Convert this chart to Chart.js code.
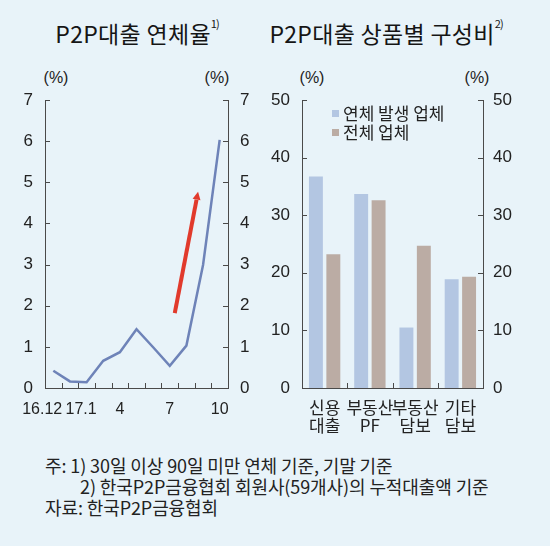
<!DOCTYPE html>
<html><head><meta charset="utf-8">
<script src="https://cdn.jsdelivr.net/npm/chart.js@4.4.0/dist/chart.umd.min.js"></script>
<style>
html,body{margin:0;padding:0;background:#e8f3f9;}
#wrap{position:relative;width:550px;height:546px;background:#e8f3f9;overflow:hidden;font-family:'Noto Sans CJK KR',sans-serif;color:#222;}
canvas{position:absolute;top:0;}
.title{position:absolute;top:16px;font-size:23px;font-weight:400;color:#151515;white-space:nowrap;transform:translateX(-50%);letter-spacing:0.3px;}
.title sup{font-size:11px;vertical-align:top;position:relative;top:-1px;letter-spacing:-1px;}
.unit{position:absolute;top:69px;font-size:16px;transform:translateX(-50%);font-family:'Liberation Sans','Noto Sans CJK KR',sans-serif;}
.leg{position:absolute;left:332px;font-size:17px;line-height:19px;white-space:nowrap;}
.leg i{display:inline-block;width:7px;height:7px;margin-right:4px;vertical-align:middle;position:relative;top:-2px;}
.foot{position:absolute;left:45px;top:455px;font-size:18px;line-height:21px;white-space:nowrap;letter-spacing:-0.1px;}
</style></head>
<body>
<div id="wrap">
  <div class="title" style="left:137px">P2P대출 연체율<sup>1)</sup></div>
  <div class="title" style="left:386px">P2P대출 상품별 구성비<sup>2)</sup></div>
  <div class="unit" style="left:56px">(%)</div>
  <div class="unit" style="left:217px">(%)</div>
  <div class="unit" style="left:312px">(%)</div>
  <div class="unit" style="left:477px">(%)</div>
  <canvas id="c1" width="275" height="450" style="left:0;width:275px;height:450px"></canvas>
  <canvas id="c2" width="290" height="450" style="left:260px;width:290px;height:450px"></canvas>
  <div class="leg" style="top:103px"><i style="background:#b3c6e2"></i>연체 발생 업체</div>
  <div class="leg" style="top:122px"><i style="background:#bbaca4"></i>전체 업체</div>
  <div class="foot">주: 1) 30일 이상 90일 미만 연체 기준, 기말 기준<br><span style="padding-left:35px">2) 한국P2P금융협회 회원사(59개사)의 누적대출액 기준</span><br>자료: 한국P2P금융협회</div>
</div>
<script>
// ---- data ----
const monthLabels = ['16.12     ','     17.1','','','4','','','7','','','10'];
const delinquencyRate = [0.42,0.16,0.14,0.66,0.87,1.43,0.99,0.54,1.03,2.99,6.03];
const arrowFrom = [7.3, 1.82];
const arrowTo = [8.7, 4.77];

const productLabels = [['신용','대출'],['부동산','PF'],['부동산','담보'],['기타','담보']];
const overdueFirms = [36.7, 33.7, 10.5, 18.9];
const allFirms = [23.2, 32.6, 24.7, 19.3];
const seriesNames = ['연체 발생 업체','전체 업체'];

const numFont = {family:"'Liberation Sans','Noto Sans CJK KR',sans-serif", size:17};
const xNumFont = {family:"'Liberation Sans','Noto Sans CJK KR',sans-serif", size:16};
const korFont = {family:"'Noto Sans CJK KR',sans-serif", size:17, lineHeight:1.08};
const axisColor = '#4a4a4a';

const innerTicks = {
  id:'innerTicks',
  afterDraw(chart){
    const ctx = chart.ctx, ca = chart.chartArea;
    ctx.save();
    ctx.strokeStyle = axisColor; ctx.lineWidth = 1;
    ['y','y2'].forEach(id=>{
      const s = chart.scales[id];
      const left = s.position === 'left';
      const x0 = left ? ca.left : ca.right;
      s.ticks.forEach((t,i)=>{
        const y = Math.round(s.getPixelForTick(i)) + 0.5;
        ctx.beginPath(); ctx.moveTo(x0, y); ctx.lineTo(x0 + (left?5:-5), y); ctx.stroke();
      });
    });
    const xs = chart.scales.x;
    const n = chart.data.labels.length;
    const step = xs.getPixelForValue(1) - xs.getPixelForValue(0);
    for (let i=1;i<n;i++){
      const x = Math.round(xs.getPixelForValue(i) - step/2) + 0.5;
      ctx.beginPath(); ctx.moveTo(x, ca.bottom); ctx.lineTo(x, ca.bottom - 5); ctx.stroke();
    }
    ctx.restore();
  }
};

const arrowPlugin = {
  id:'arrowPlugin',
  afterDatasetsDraw(chart){
    const xs = chart.scales.x, ys = chart.scales.y, ctx = chart.ctx;
    const x1 = xs.getPixelForValue(arrowFrom[0]), y1 = ys.getPixelForValue(arrowFrom[1]);
    const x2 = xs.getPixelForValue(arrowTo[0]), y2 = ys.getPixelForValue(arrowTo[1]);
    const ang = Math.atan2(y2-y1, x2-x1);
    const head = 8, hw = 4;
    const bx = x2 - head*Math.cos(ang), by = y2 - head*Math.sin(ang);
    ctx.save();
    ctx.strokeStyle = '#e13a2c'; ctx.fillStyle = '#e13a2c';
    ctx.lineWidth = 4; ctx.lineCap = 'butt';
    ctx.beginPath(); ctx.moveTo(x1,y1); ctx.lineTo(bx,by); ctx.stroke();
    ctx.beginPath();
    ctx.moveTo(x2,y2);
    ctx.lineTo(bx + hw*Math.sin(ang), by - hw*Math.cos(ang));
    ctx.lineTo(bx - hw*Math.sin(ang), by + hw*Math.cos(ang));
    ctx.closePath(); ctx.fill();
    ctx.restore();
  }
};

function yAxis(pos, max, step, width, pad){
  return {
    type:'linear', position:pos, min:0, max:max,
    grid:{display:false, drawTicks:false},
    border:{display:true, color:axisColor, width:1},
    ticks:{stepSize:step, color:'#222', font:numFont, padding:pad},
    afterFit(s){ s.width = width; }
  };
}

new Chart(document.getElementById('c1'), {
  type:'line',
  data:{labels:monthLabels, datasets:[{data:delinquencyRate, borderColor:'#6e83b8', borderWidth:2.5, pointRadius:0, tension:0, fill:false}]},
  options:{
    responsive:false, animation:false, devicePixelRatio:1,
    layout:{padding:{top:100,left:0,right:0,bottom:0}},
    plugins:{legend:{display:false}, tooltip:{enabled:false}},
    scales:{
      x:{type:'category', offset:true,
        grid:{display:false, drawTicks:false},
        border:{display:true, color:axisColor, width:1},
        ticks:{autoSkip:false, maxRotation:0, color:'#222', font:xNumFont, padding:12},
        afterFit(s){ s.height = 62; }},
      y: yAxis('left', 7, 1, 45, 12),
      y2: yAxis('right', 7, 1, 47, 12)
    }
  },
  plugins:[innerTicks, arrowPlugin]
});

new Chart(document.getElementById('c2'), {
  type:'bar',
  data:{labels:productLabels, datasets:[
    {label:seriesNames[0], data:overdueFirms, backgroundColor:'#b3c6e2', categoryPercentage:0.77, barPercentage:0.8},
    {label:seriesNames[1], data:allFirms, backgroundColor:'#bbaca4', categoryPercentage:0.77, barPercentage:0.8}
  ]},
  options:{
    responsive:false, animation:false, devicePixelRatio:1,
    layout:{padding:{top:100,left:0,right:0,bottom:0}},
    plugins:{legend:{display:false}, tooltip:{enabled:false}},
    scales:{
      x:{type:'category', offset:true,
        grid:{display:false, drawTicks:false},
        border:{display:true, color:axisColor, width:1},
        ticks:{autoSkip:false, maxRotation:0, color:'#222', font:korFont, padding:10},
        afterFit(s){ s.height = 62; }},
      y: yAxis('left', 50, 10, 42, 12),
      y2: yAxis('right', 50, 10, 67, 10)
    }
  },
  plugins:[innerTicks]
});
</script>
</body></html>
